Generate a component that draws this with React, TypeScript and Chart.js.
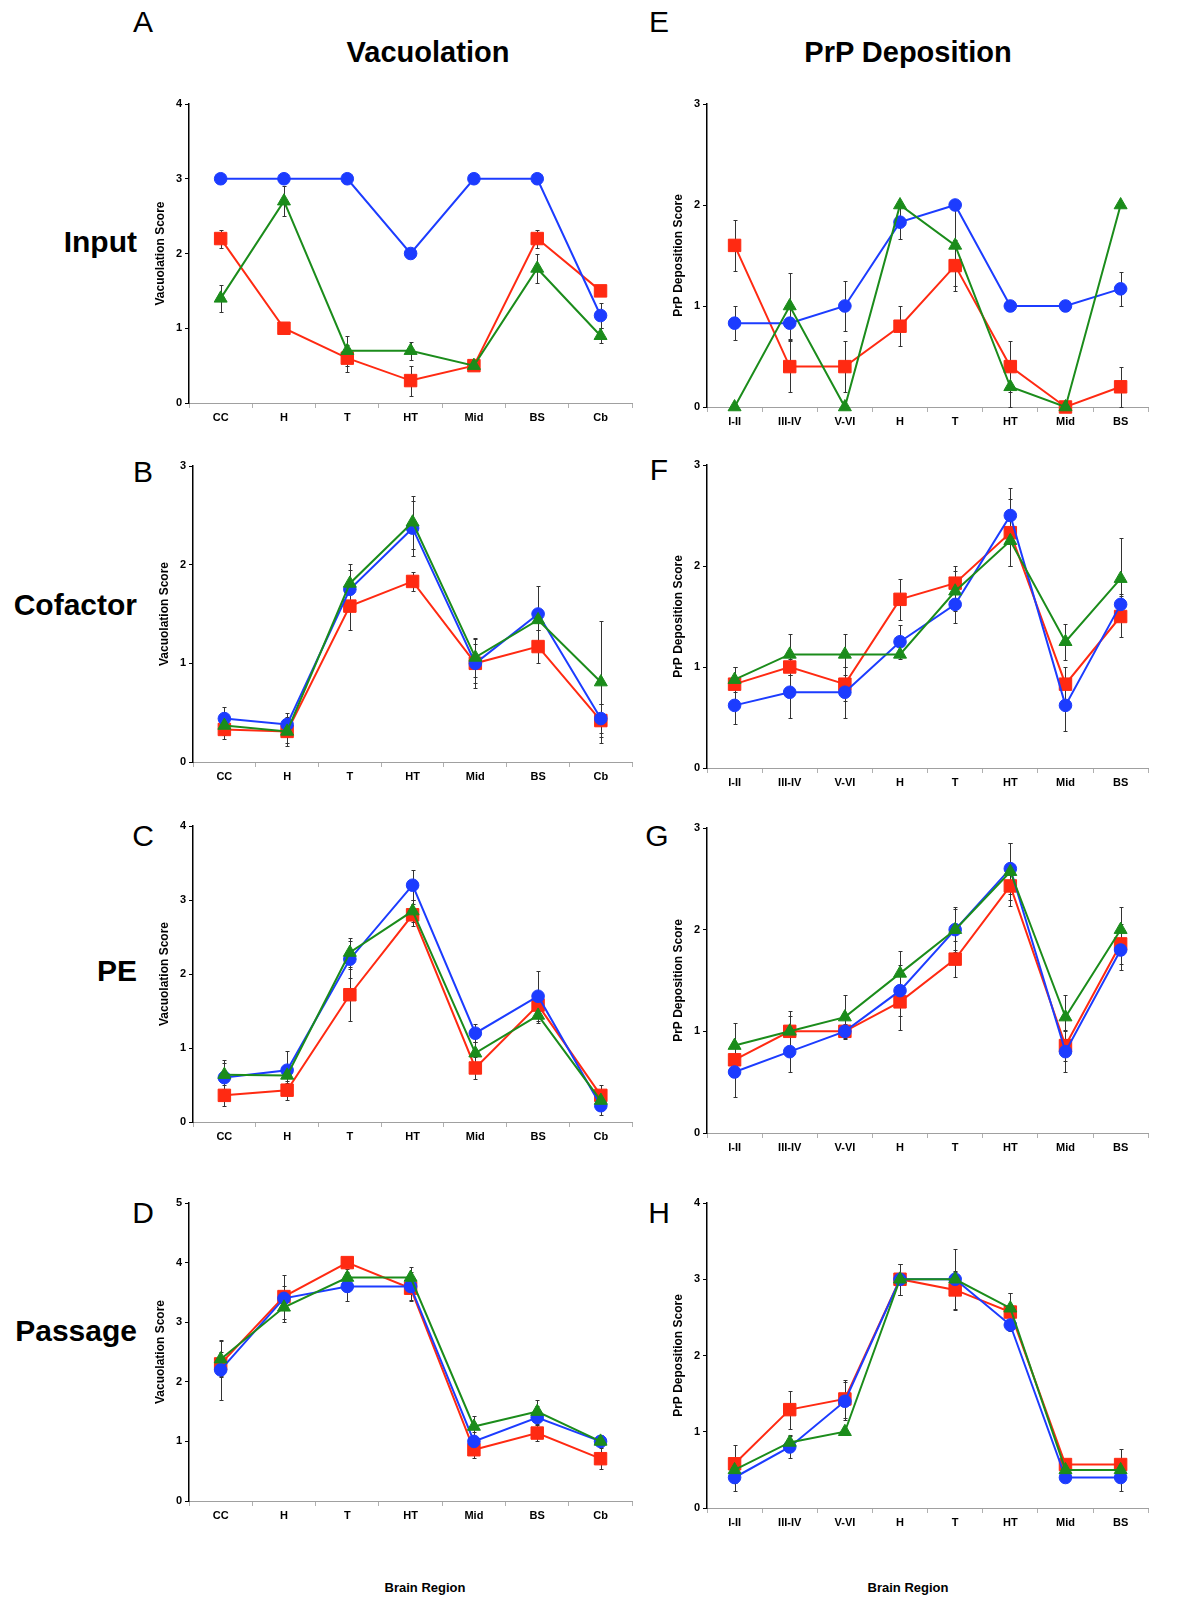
import React, { useEffect, useRef } from 'react';
import { Chart, registerables } from 'chart.js';

Chart.register(...registerables);

// ---------- Categories ----------
const vacRegions = ['CC', 'H', 'T', 'HT', 'Mid', 'BS', 'Cb'];
const prpRegions = ['I-II', 'III-IV', 'V-VI', 'H', 'T', 'HT', 'Mid', 'BS'];

// ---------- Panel A: Vacuolation / Input ----------
const aRed = [2.2, 1.0, 0.6, 0.3, 0.5, 2.2, 1.5];
const aRedErr = [0.12, 0, 0.18, 0.2, 0, 0.12, 0];
const aBlue = [3, 3, 3, 2, 3, 3, 1.17];
const aBlueErr = [0, 0, 0, 0, 0, 0, 0.17];
const aGreen = [1.4, 2.7, 0.7, 0.7, 0.5, 1.8, 0.9];
const aGreenErr = [0.18, 0.2, 0.2, 0.12, 0, 0.2, 0.1];

// ---------- Panel B: Vacuolation / Cofactor ----------
const bRed = [0.33, 0.31, 1.58, 1.83, 1.0, 1.17, 0.42];
const bRedErr = [0.1, 0.12, 0.24, 0.1, 0.25, 0.17, 0.17];
const bBlue = [0.44, 0.38, 1.75, 2.37, 1.0, 1.5, 0.44];
const bBlueErr = [0.12, 0.12, 0.2, 0.28, 0.2, 0.28, 0.15];
const bGreen = [0.37, 0.31, 1.81, 2.43, 1.06, 1.44, 0.81];
const bGreenErr = [0.1, 0.15, 0.2, 0.27, 0.2, 0.1, 0.62];

// ---------- Panel C: Vacuolation / PE ----------
const cRed = [0.36, 0.43, 1.72, 2.8, 0.73, 1.58, 0.36];
const cRedErr = [0.14, 0.13, 0.35, 0.15, 0.15, 0.15, 0.14];
const cBlue = [0.6, 0.7, 2.2, 3.2, 1.2, 1.7, 0.22];
const cBlueErr = [0.2, 0.26, 0.25, 0.2, 0.12, 0.34, 0.12];
const cGreen = [0.64, 0.63, 2.29, 2.85, 0.93, 1.44, 0.29];
const cGreenErr = [0.2, 0.1, 0.2, 0.15, 0.15, 0.1, 0.1];

// ---------- Panel D: Vacuolation / Passage ----------
const dRed = [2.3, 3.43, 4.0, 3.57, 0.86, 1.14, 0.71];
const dRedErr = [0.2, 0.37, 0, 0.2, 0.14, 0.14, 0.18];
const dBlue = [2.2, 3.4, 3.6, 3.6, 1.0, 1.4, 1.0];
const dBlueErr = [0.5, 0.2, 0.24, 0.24, 0.15, 0.2, 0.05];
const dGreen = [2.38, 3.25, 3.75, 3.75, 1.25, 1.5, 1.0];
const dGreenErr = [0.3, 0.25, 0.14, 0.18, 0.18, 0.2, 0.1];

// ---------- Panel E: PrP Deposition / Input ----------
const eRed = [1.6, 0.4, 0.4, 0.8, 1.4, 0.4, 0, 0.2];
const eRedErr = [0.25, 0.25, 0.25, 0.2, 0.25, 0.25, 0, 0.2];
const eBlue = [0.83, 0.83, 1.0, 1.83, 2.0, 1.0, 1.0, 1.17];
const eBlueErr = [0.17, 0.17, 0.25, 0.17, 0, 0, 0, 0.17];
const eGreen = [0, 1.0, 0, 2.0, 1.6, 0.2, 0, 2.0];
const eGreenErr = [0, 0.33, 0, 0, 0.4, 0.2, 0, 0];

// ---------- Panel F: PrP Deposition / Cofactor ----------
const fRed = [0.83, 1.0, 0.83, 1.67, 1.83, 2.33, 0.83, 1.5];
const fRedErr = [0.17, 0.08, 0.17, 0.2, 0.17, 0.33, 0.17, 0.2];
const fBlue = [0.62, 0.75, 0.75, 1.25, 1.62, 2.5, 0.62, 1.62];
const fBlueErr = [0.18, 0.25, 0.25, 0.17, 0.18, 0.27, 0.25, 0.1];
const fGreen = [0.875, 1.125, 1.125, 1.125, 1.75, 2.25, 1.25, 1.875];
const fGreenErr = [0.125, 0.2, 0.2, 0, 0.2, 0.25, 0.18, 0.4];

// ---------- Panel G: PrP Deposition / PE ----------
const gRed = [0.72, 1.0, 1.0, 1.29, 1.71, 2.43, 0.86, 1.86];
const gRedErr = [0.15, 0.2, 0.05, 0.28, 0.18, 0.2, 0.15, 0.2];
const gBlue = [0.6, 0.8, 1.0, 1.4, 2.0, 2.6, 0.8, 1.8];
const gBlueErr = [0.25, 0.2, 0.07, 0.25, 0.2, 0.25, 0.2, 0.2];
const gGreen = [0.86, 1.0, 1.14, 1.57, 2.0, 2.57, 1.14, 2.0];
const gGreenErr = [0.22, 0.15, 0.22, 0.22, 0.22, 0.28, 0.22, 0.22];

// ---------- Panel H: PrP Deposition / Passage ----------
const hRed = [0.58, 1.29, 1.43, 3.0, 2.86, 2.57, 0.57, 0.57];
const hRedErr = [0.25, 0.25, 0.25, 0.2, 0.25, 0.25, 0, 0.2];
const hBlue = [0.4, 0.8, 1.4, 3.0, 3.0, 2.4, 0.4, 0.4];
const hBlueErr = [0.18, 0.15, 0.25, 0.2, 0.1, 0, 0, 0.18];
const hGreen = [0.5, 0.86, 1.0, 3.0, 3.0, 2.62, 0.5, 0.5];
const hGreenErr = [0, 0.1, 0, 0.2, 0.4, 0.2, 0, 0];

// ---------- Styles ----------
const RED = '#ff2a12';
const BLUE = '#1c3cff';
const GREEN = '#1b8c1b';
const FONT = "'Liberation Sans', Arial, Helvetica, sans-serif";

const errorBarPlugin = {
  id: 'errorBars',
  beforeDatasetsDraw(chart: any) {
    const ctx = chart.ctx;
    const yScale = chart.scales.y;
    ctx.save();
    ctx.strokeStyle = '#333';
    ctx.lineWidth = 1;
    chart.data.datasets.forEach((ds: any, i: number) => {
      const meta = chart.getDatasetMeta(i);
      const errs: number[] = ds.errors || [];
      meta.data.forEach((pt: any, j: number) => {
        const e = errs[j];
        if (!e) return;
        const v = ds.data[j] as number;
        const x = Math.round(pt.x) + 0.5;
        const y1 = Math.round(yScale.getPixelForValue(v + e)) + 0.5;
        const y2 = Math.round(yScale.getPixelForValue(Math.max(0, v - e))) + 0.5;
        ctx.beginPath();
        ctx.moveTo(x, y1);
        ctx.lineTo(x, y2);
        ctx.moveTo(x - 2, y1);
        ctx.lineTo(x + 2, y1);
        ctx.moveTo(x - 2, y2);
        ctx.lineTo(x + 2, y2);
        ctx.stroke();
      });
    });
    ctx.restore();
  },
};

function series(data: number[], errors: number[], color: string, style: string, radius: number) {
  return {
    data,
    errors,
    borderColor: color,
    backgroundColor: color,
    pointBackgroundColor: color,
    pointBorderColor: color,
    pointStyle: style,
    pointRadius: radius,
    pointBorderWidth: 1,
    borderWidth: 2,
    tension: 0,
    fill: false,
    clip: false,
  };
}

type PanelDef = {
  labels: string[];
  red: number[]; redErr: number[];
  blue: number[]; blueErr: number[];
  green: number[]; greenErr: number[];
  yMax: number;
  yTitle: string;
  axisX: number; yTop: number; yBottom: number; xRight: number;
};

const Y_W = 40;
const PAD_TOP = 10;
const X_H = 30;

function Panel({ p }: { p: PanelDef }) {
  const ref = useRef<HTMLCanvasElement>(null);
  const left = p.axisX - Y_W;
  const top = p.yTop - PAD_TOP;
  const width = p.xRight - left + 2;
  const height = p.yBottom - top + X_H;

  useEffect(() => {
    const chart = new Chart(ref.current as HTMLCanvasElement, {
      type: 'line',
      data: {
        labels: p.labels,
        datasets: [
          series(p.green, p.greenErr, GREEN, 'triangle', 7.5),
          series(p.blue, p.blueErr, BLUE, 'circle', 6.3),
          series(p.red, p.redErr, RED, 'rect', 8.8),
        ] as any,
      },
      options: {
        animation: false,
        responsive: false,
        devicePixelRatio: 1,
        layout: { padding: { top: PAD_TOP, right: 2, left: 0, bottom: 0 } },
        plugins: { legend: { display: false }, tooltip: { enabled: false } },
        scales: {
          x: {
            type: 'category',
            offset: true,
            grid: { offset: true, drawOnChartArea: false, drawTicks: true, tickLength: 5, color: '#b0b0b0' },
            border: { display: true, color: '#a0a0a0', width: 1 },
            ticks: {
              font: { family: FONT, size: 11, weight: 'bold' },
              color: '#000',
              padding: 3,
              maxRotation: 0,
              autoSkip: false,
            },
            afterFit: (s: any) => { s.height = X_H; },
          },
          y: {
            min: 0,
            max: p.yMax,
            ticks: {
              stepSize: 1,
              font: { family: FONT, size: 11, weight: 'bold' },
              color: '#000',
              padding: 3,
            },
            grid: { drawOnChartArea: false, drawTicks: true, tickLength: 4, color: '#000' },
            border: { display: true, color: '#000', width: 1.5 },
            title: {
              display: true,
              text: p.yTitle,
              font: { family: FONT, size: 12, weight: 'bold' },
              color: '#000',
              padding: { top: 4, bottom: 0 },
            },
            afterFit: (s: any) => { s.width = Y_W; },
          },
        },
      } as any,
      plugins: [errorBarPlugin],
    });
    return () => chart.destroy();
  }, []);

  return (
    <div style={{ position: 'absolute', left, top, width, height }}>
      <canvas ref={ref} width={width} height={height} style={{ width, height, display: 'block' }} />
    </div>
  );
}

const VS = 'Vacuolation Score';
const PS = 'PrP Deposition Score';

const panels: PanelDef[] = [
  { labels: vacRegions, red: aRed, redErr: aRedErr, blue: aBlue, blueErr: aBlueErr, green: aGreen, greenErr: aGreenErr, yMax: 4, yTitle: VS, axisX: 189, yTop: 104, yBottom: 403, xRight: 640 },
  { labels: vacRegions, red: bRed, redErr: bRedErr, blue: bBlue, blueErr: bBlueErr, green: bGreen, greenErr: bGreenErr, yMax: 3, yTitle: VS, axisX: 193, yTop: 466, yBottom: 762, xRight: 640 },
  { labels: vacRegions, red: cRed, redErr: cRedErr, blue: cBlue, blueErr: cBlueErr, green: cGreen, greenErr: cGreenErr, yMax: 4, yTitle: VS, axisX: 193, yTop: 826, yBottom: 1122, xRight: 640 },
  { labels: vacRegions, red: dRed, redErr: dRedErr, blue: dBlue, blueErr: dBlueErr, green: dGreen, greenErr: dGreenErr, yMax: 5, yTitle: VS, axisX: 189, yTop: 1203, yBottom: 1501, xRight: 640 },
  { labels: prpRegions, red: eRed, redErr: eRedErr, blue: eBlue, blueErr: eBlueErr, green: eGreen, greenErr: eGreenErr, yMax: 3, yTitle: PS, axisX: 707, yTop: 104, yBottom: 407, xRight: 1156 },
  { labels: prpRegions, red: fRed, redErr: fRedErr, blue: fBlue, blueErr: fBlueErr, green: fGreen, greenErr: fGreenErr, yMax: 3, yTitle: PS, axisX: 707, yTop: 465, yBottom: 768, xRight: 1156 },
  { labels: prpRegions, red: gRed, redErr: gRedErr, blue: gBlue, blueErr: gBlueErr, green: gGreen, greenErr: gGreenErr, yMax: 3, yTitle: PS, axisX: 707, yTop: 828, yBottom: 1133, xRight: 1156 },
  { labels: prpRegions, red: hRed, redErr: hRedErr, blue: hBlue, blueErr: hBlueErr, green: hGreen, greenErr: hGreenErr, yMax: 4, yTitle: PS, axisX: 707, yTop: 1203, yBottom: 1508, xRight: 1156 },
];

function Label({ text, x, y, size, bold, align = 'center' }: { text: string; x: number; y: number; size: number; bold?: boolean; align?: 'center' | 'right' }) {
  const tx = align === 'center' ? '-50%' : '-100%';
  return (
    <div
      style={{
        position: 'absolute',
        left: x,
        top: y,
        transform: `translate(${tx}, -50%)`,
        fontFamily: FONT,
        fontSize: size,
        fontWeight: bold ? 'bold' : 'normal',
        lineHeight: 1,
        whiteSpace: 'nowrap',
        color: '#000',
      }}
    >
      {text}
    </div>
  );
}

export default function App() {
  return (
    <div style={{ position: 'absolute', left: 0, top: 0, width: 1181, height: 1601, background: '#fff', overflow: 'hidden' }}>
      <Label text="A" x={143} y={22} size={30} />
      <Label text="E" x={659} y={22} size={30} />
      <Label text="B" x={143} y={472} size={30} />
      <Label text="F" x={659} y={470} size={30} />
      <Label text="C" x={143} y={836} size={30} />
      <Label text="G" x={657} y={836} size={30} />
      <Label text="D" x={143} y={1213} size={30} />
      <Label text="H" x={659} y={1213} size={30} />

      <Label text="Vacuolation" x={428} y={52} size={29} bold />
      <Label text="PrP Deposition" x={908} y={52} size={29} bold />

      <Label text="Input" x={137} y={242} size={30} bold align="right" />
      <Label text="Cofactor" x={137} y={605} size={30} bold align="right" />
      <Label text="PE" x={137} y={971} size={30} bold align="right" />
      <Label text="Passage" x={137} y={1331} size={30} bold align="right" />

      {panels.map((p, i) => (
        <Panel key={i} p={p} />
      ))}

      <Label text="Brain Region" x={425} y={1587} size={13} bold />
      <Label text="Brain Region" x={908} y={1587} size={13} bold />
    </div>
  );
}
